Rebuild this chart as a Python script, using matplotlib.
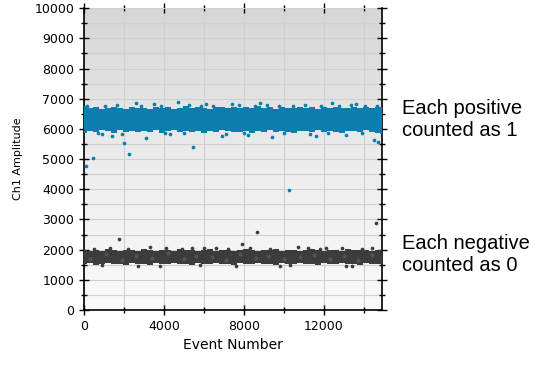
import numpy as np
import matplotlib.pyplot as plt
from matplotlib.colors import LinearSegmentedColormap
from matplotlib.ticker import MultipleLocator

# envelope of the two droplet bands
band_x = [0, 300, 600, 900, 1200, 1500, 1800, 2100, 2400, 2700,
          3000, 3300, 3600, 3900, 4200, 4500, 4800, 5100, 5400, 5700,
          6000, 6300, 6600, 6900, 7200, 7500, 7800, 8100, 8400, 8700,
          9000, 9300, 9600, 9900, 10200, 10500, 10800, 11100, 11400, 11700,
          12000, 12300, 12600, 12900, 13200, 13500, 13800, 14100, 14400, 14700, 14900]

pos_upper = [6750, 6680, 6720, 6650, 6700, 6740, 6690, 6660, 6720, 6700,
             6680, 6650, 6710, 6690, 6730, 6670, 6700, 6760, 6690, 6720,
             6700, 6660, 6740, 6710, 6690, 6730, 6680, 6720, 6700, 6750,
             6690, 6710, 6670, 6730, 6700, 6680, 6740, 6700, 6720, 6660,
             6710, 6690, 6730, 6700, 6680, 6740, 6700, 6720, 6690, 6710, 6720]
pos_lower = [5880, 5940, 5900, 5960, 5920, 5880, 5950, 5910, 5930, 5890,
             5940, 5900, 5960, 5880, 5920, 5950, 5890, 5930, 5910, 5940,
             5880, 5920, 5900, 5950, 5930, 5890, 5910, 5940, 5880, 5920,
             5900, 5950, 5890, 5930, 5910, 5880, 5940, 5920, 5900, 5950,
             5890, 5930, 5910, 5880, 5940, 5920, 5900, 5950, 5890, 5860, 5830]

neg_upper = [1990, 1960, 2000, 1970, 2010, 1980, 1960, 2000, 1990, 1970,
             2020, 1980, 1960, 2000, 1990, 1970, 2010, 1980, 2000, 1960,
             1990, 2010, 1970, 1990, 2000, 1960, 1980, 2010, 1990, 1970,
             2000, 1980, 2010, 1960, 1990, 2000, 1970, 1990, 2010, 1980,
             1960, 2000, 1990, 1970, 2010, 1980, 1990, 2000, 1970, 1990, 2000]
neg_lower = [1520, 1550, 1500, 1540, 1560, 1510, 1530, 1480, 1550, 1520,
             1540, 1500, 1560, 1530, 1510, 1550, 1520, 1540, 1500, 1560,
             1530, 1510, 1550, 1520, 1540, 1500, 1560, 1530, 1510, 1550,
             1520, 1540, 1500, 1560, 1530, 1510, 1550, 1520, 1540, 1500,
             1560, 1530, 1510, 1550, 1520, 1540, 1500, 1560, 1530, 1510, 1520]

# stray droplets outside / on the edge of the bands
pos_x = [100, 450, 2000, 2250, 5450, 10250, 1400, 3100, 4300, 6900, 8200,
         9400, 11600, 13100, 14500, 14700, 2600, 4700, 7400, 12400, 900, 3500, 6100, 8800, 13600,
         150, 1050, 1650, 2850, 3850, 5250, 5850, 6450, 7750, 8550, 9150, 9750, 10450, 11050,
         11850, 12750, 13350, 14050, 14650, 700, 1900, 4050, 5000, 7100, 8000, 10000, 11300, 12200, 13900]
pos_y = [4770, 5030, 5530, 5170, 5400, 3970, 5780, 5700, 5820, 5750, 5800,
         5720, 5780, 5810, 5640, 5580, 6850, 6880, 6830, 6860, 5820, 6820, 6840, 6870, 6830,
         6770, 6760, 6780, 6770, 6760, 6790, 6770, 6760, 6780, 6770, 6790, 6760, 6770, 6780,
         6770, 6760, 6790, 6770, 6760, 5850, 5840, 5860, 5850, 5840, 5860, 5850, 5840, 5860, 5850]
neg_x = [1750, 8650, 7900, 14600, 3300, 5400, 6600, 10700, 12100, 2700, 9800, 13400,
         500, 1300, 2200, 4100, 4900, 6000, 7200, 8300, 9300, 11200, 11800, 12900, 13900, 14400,
         900, 3800, 5800, 7600, 10300, 13100]
neg_y = [2350, 2580, 2190, 2880, 2080, 2070, 2060, 2080, 2070, 1460, 1470, 1460,
         2030, 2040, 2030, 2050, 2030, 2040, 2030, 2050, 2030, 2040, 2030, 2050, 2030, 2040,
         1480, 1470, 1480, 1470, 1480, 1470]

# lighter speckles inside the negative band
speck_x = [300, 1100, 1900, 2600, 3400, 4200, 5000, 5600, 6400, 7100, 7800,
           8600, 9200, 10000, 10800, 11500, 12300, 13000, 13700, 14400]
speck_y = [1700, 1850, 1650, 1780, 1720, 1880, 1690, 1800, 1750, 1660, 1850,
           1720, 1800, 1680, 1760, 1840, 1700, 1780, 1660, 1820]

blue = "#0b7dae"
dark = "#3c3c3c"

fig = plt.figure(figsize=(5.34, 3.70), dpi=100)
ax = fig.add_axes([0.157, 0.162, 0.558, 0.816])

# grey gradient background
grad = np.linspace(0, 1, 256).reshape(-1, 1)
bg = LinearSegmentedColormap.from_list("bg", ["#fbfbfb", "#ececec", "#d6d6d6"])
ax.imshow(grad, cmap=bg, extent=[0, 14900, 0, 10000], origin="lower", aspect="auto", zorder=0)

ax.fill_between(band_x, pos_lower, pos_upper, step="mid", color=blue, lw=0, zorder=3)
ax.fill_between(band_x, neg_lower, neg_upper, step="mid", color=dark, lw=0, zorder=3)
ax.scatter(pos_x, pos_y, s=7, color=blue, lw=0, zorder=4)
ax.scatter(neg_x, neg_y, s=7, color=dark, lw=0, zorder=4)
ax.scatter(speck_x, speck_y, s=9, color="#535353", lw=0, zorder=4)

ax.set_xlim(0, 14900)
ax.set_ylim(0, 10000)
ax.xaxis.set_major_locator(MultipleLocator(4000))
ax.xaxis.set_minor_locator(MultipleLocator(2000))
ax.yaxis.set_major_locator(MultipleLocator(1000))
ax.yaxis.set_minor_locator(MultipleLocator(500))
ax.grid(True, which="both", color="#d0d0d0", lw=0.8, zorder=1)
ax.set_axisbelow(True)

ax.tick_params(which="both", labelsize=9, top=True, right=True, direction="inout", length=7, width=1)
ax.tick_params(which="minor", length=5)
ax.spines["top"].set_visible(False)
for s in ["left", "bottom", "right"]:
    ax.spines[s].set_linewidth(1.2)

ax.set_xlabel("Event Number", fontsize=10)
ax.set_ylabel("Ch1 Amplitude", fontsize=8, labelpad=8)

fig.text(0.752, 0.676, "Each positive\ncounted as 1", fontsize=14.5, family="Liberation Sans",
         va="center", ha="left", linespacing=1.2)
fig.text(0.752, 0.311, "Each negative\ncounted as 0", fontsize=14.5, family="Liberation Sans",
         va="center", ha="left", linespacing=1.2)

fig.savefig("out.png", dpi=100)
